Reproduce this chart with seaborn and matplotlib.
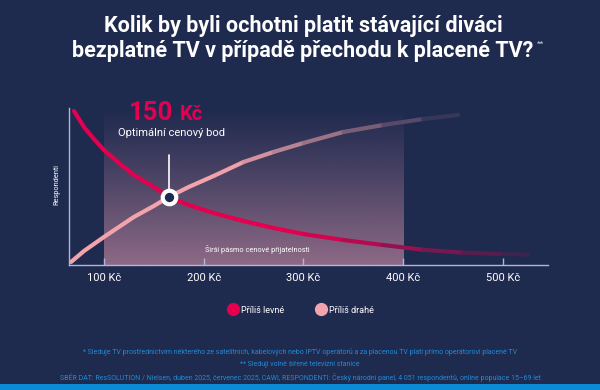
import numpy as np
import pandas as pd
import matplotlib
matplotlib.use("Agg")
import matplotlib.pyplot as plt
import seaborn as sns
from matplotlib.collections import LineCollection
from matplotlib.colors import to_rgb
from matplotlib.lines import Line2D
from matplotlib.patches import Rectangle

# --- data (price in Kč, share of respondents) ---
cheap_price = [70, 80, 90, 100, 115, 130, 150, 165, 185, 210, 240, 270, 300, 340, 380, 420, 460, 500, 525]
cheap_share = [77, 69, 63, 57.5, 51, 45, 39, 34, 30, 26, 22, 18.5, 15.5, 12.5, 10, 7.6, 6.2, 5.5, 5.2]
exp_price = [67, 80, 90, 100, 115, 130, 150, 165, 185, 210, 240, 270, 300, 340, 380, 420, 455]
exp_share = [1.5, 7, 10.5, 14, 19, 24, 29.5, 34, 39, 44.5, 51.5, 56.5, 61, 66.5, 70, 73, 75]

opt_price = 165
opt_share = 34
opt_label = "150"
band = (100, 400)
xticks = [100, 200, 300, 400, 500]
xtick_labels = ["100 Kč", "200 Kč", "300 Kč", "400 Kč", "500 Kč"]
series_names = ["Příliš levné", "Příliš drahé"]

BG = "#1F2A4F"
RED = "#E4004F"
PINK = "#F2A3AC"
AXIS = "#AEB6DA"
BLUE = "#1E8BD6"

sns.set_theme(style="ticks")
plt.rcParams["font.family"] = ["Roboto", "DejaVu Sans"]

fig = plt.figure(figsize=(6, 3.9), dpi=100, facecolor=BG)
ax = fig.add_axes([0.115, 0.3205, 0.798, 0.4026])
ax.set_facecolor("none")
ax.set_xlim(65, 545)
ax.set_ylim(0, 78.5)

# shaded band with vertical gradient
grad = np.zeros((100, 1, 4))
band_rgb = to_rgb("#8E6A86")
grad[..., 0], grad[..., 1], grad[..., 2] = band_rgb
grad[:, 0, 3] = np.linspace(0, 1, 100) ** 1.1
ax.imshow(grad, extent=(band[0], band[1], 0, 78.5), origin="upper",
          aspect="auto", zorder=0)


def draw_curve(xs, ys, color, full_until, fade_end, z):
    df = pd.DataFrame({"x": xs, "y": ys})
    solid = df[df["x"] <= full_until]
    sns.lineplot(data=solid, x="x", y="y", color=color, lw=3,
                 sort=False, estimator=None, ax=ax, zorder=z,
                 solid_capstyle="round")
    # fading tail: colour blended towards the background
    rest = df[df["x"] >= solid["x"].max()].reset_index(drop=True)
    segs, cols = [], []
    c, bg = np.array(to_rgb(color)), np.array(to_rgb(BG))
    for i in range(len(rest) - 1):
        x0, y0 = rest.loc[i, "x"], rest.loc[i, "y"]
        x1, y1 = rest.loc[i + 1, "x"], rest.loc[i + 1, "y"]
        mid = (x0 + x1) / 2
        a = max(0.0, 1 - (mid - full_until) / (fade_end - full_until))
        segs.append([(x0, y0), (x1, y1)])
        cols.append(tuple(a * c + (1 - a) * bg))
    ax.add_collection(LineCollection(segs, colors=cols, linewidths=3,
                                     capstyle="round", zorder=z))


draw_curve(exp_price, exp_share, PINK, 220, 465, 2)
draw_curve(cheap_price, cheap_share, RED, 300, 550, 3)

# optimal point marker
ax.plot([opt_price, opt_price], [opt_share, 55], color="white", lw=1.2, zorder=4)
sns.scatterplot(x=[opt_price], y=[opt_share], s=95, color=BG,
                edgecolor="white", linewidth=3, ax=ax, zorder=5)
ax.text(opt_price + 5, 72.5, opt_label, color=RED, fontsize=18.5,
        fontweight="bold", ha="right", va="baseline", zorder=6)
ax.text(opt_price + 11, 72.5, "Kč", color=RED, fontsize=14.5,
        fontweight="bold", ha="left", va="baseline", zorder=6)
ax.text(opt_price + 3, 66, "Optimální cenový bod", color="white",
        fontsize=8, ha="center", va="center", zorder=6)
ax.text(254, 7.8, "Širší pásmo cenové přijatelnosti", color="white",
        fontsize=5.3, ha="center", va="center", zorder=6)
ax.text(-0.025, 0.51, "Respondenti", color="white", fontsize=5.3,
        rotation=90, ha="center", va="center", transform=ax.transAxes)

# axes styling
for s in ["top", "right"]:
    ax.spines[s].set_visible(False)
for s in ["left", "bottom"]:
    ax.spines[s].set_color(AXIS)
    ax.spines[s].set_linewidth(1)
ax.set_xticks(xticks)
ax.set_xticklabels(xtick_labels)
ax.set_yticks([])
ax.tick_params(axis="x", direction="in", length=5, width=1, color=AXIS,
               labelcolor="white", labelsize=8, pad=6)
ax.set_xlabel("")
ax.set_ylabel("")
if ax.get_legend():
    ax.get_legend().remove()

# legend
handles = [Line2D([], [], ls="", marker="o", ms=8.5, color=RED),
           Line2D([], [], ls="", marker="o", ms=8.5, color=PINK)]
leg = fig.legend(handles, series_names, loc="center", bbox_to_anchor=(0.502, 0.205),
                 ncol=2, frameon=False, fontsize=6.5, handlelength=1.0,
                 handletextpad=0.4, columnspacing=3.6)
for t in leg.get_texts():
    t.set_color("white")

# title
fig.text(0.506, 0.918, "Kolik by byli ochotni platit stávající diváci",
         color="white", fontsize=15.5, fontweight="bold", ha="center",
         va="baseline")
fig.text(0.505, 0.854, "bezplatné TV v případě přechodu k placené TV?",
         color="white", fontsize=15.5, fontweight="bold", ha="center",
         va="baseline")
fig.text(0.895, 0.882, "**", color="#C8CCE0", fontsize=6, ha="left",
         va="baseline")

# footnotes
notes = [
    "* Sleduje TV prostřednictvím některého ze satelitních, kabelových nebo IPTV operátorů a za placenou TV platí přímo operátorovi placené TV",
    "** Sledují volně šířené televizní stanice",
    "SBĚR DAT: ResSOLUTION / Nielsen, duben 2025, červenec 2025, CAWI, RESPONDENTI: Český národní panel, 4 051 respondentů, online populace 15–69 let",
]
for i, n in enumerate(notes):
    fig.text(0.5, (390 - 352 - 12.5 * i) / 390, n, color=BLUE, fontsize=5,
             ha="center", va="center")

fig.add_artist(Rectangle((0, 0), 1, 6 / 390, transform=fig.transFigure,
                         color="#0B8BD6", lw=0))

fig.savefig("out.png", dpi=100, facecolor=BG)
